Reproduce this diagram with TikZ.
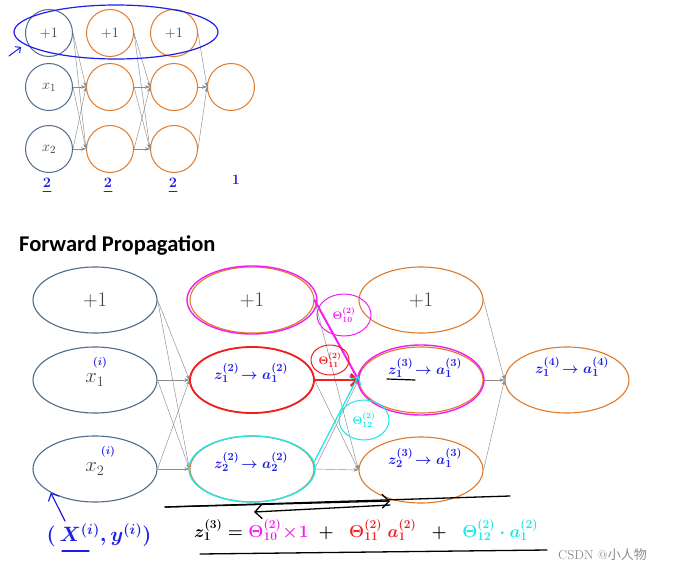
\documentclass[tikz,border=0pt]{standalone}
\usepackage{fontspec}
\usetikzlibrary{shapes.geometric,arrows.meta}
\newfontfamily\titlefont{Carlito}
\newfontfamily\cjkfont{Noto Sans CJK SC}
\definecolor{netblue}{HTML}{4F6C8E}
\definecolor{netorange}{HTML}{E07A2A}
\definecolor{conngray}{HTML}{8C8C8C}
\definecolor{penblue}{HTML}{1E1EE6}
\definecolor{penmag}{HTML}{F01EF0}
\definecolor{penred}{HTML}{F01E1E}
\definecolor{pencyan}{HTML}{1EE6E6}
\tikzset{
  smallnode/.style={circle, draw=#1, line width=1pt, minimum size=47pt, inner sep=0pt, text=black!75, font=\fontsize{15}{15}\selectfont},
  bignode/.style={ellipse, draw=#1, line width=1.1pt, minimum width=124pt, minimum height=66pt, inner sep=0pt, text=black!75, font=\fontsize{21}{21}\selectfont},
  conn/.style={draw=conngray, line width=0.45pt, -{Stealth[length=5pt,width=3.5pt]}},
  hand/.style={text=#1, inner sep=0pt, font=\fontsize{15}{15}\selectfont\boldmath},
  penline/.style={draw=#1, line width=1.4pt, line cap=round},
}
\begin{document}
\begin{tikzpicture}[x=1pt,y=-1pt]
\useasboundingbox[fill=white] (0,0) rectangle (696,573);

% ---------- small network ----------
\node[smallnode=netblue]   (c11) at (49,33)  {$+1$};
\node[smallnode=netblue]   (c12) at (49,87)  {$x_1$};
\node[smallnode=netblue]   (c13) at (49,149) {$x_2$};
\node[smallnode=netorange] (c21) at (110,33)  {$+1$};
\node[smallnode=netorange] (c22) at (110,87)  {};
\node[smallnode=netorange] (c23) at (110,149) {};
\node[smallnode=netorange] (c31) at (174,33)  {$+1$};
\node[smallnode=netorange] (c32) at (174,87)  {};
\node[smallnode=netorange] (c33) at (174,149) {};
\node[smallnode=netorange] (c42) at (231,87)  {};

\foreach \s in {c11,c12,c13}{
  \draw[conn] (\s.east) -- (c22.west);
  \draw[conn] (\s.east) -- (c23.west);
}
\foreach \s in {c21,c22,c23}{
  \draw[conn] (\s.east) -- (c32.west);
  \draw[conn] (\s.east) -- (c33.west);
}
\foreach \s in {c31,c32,c33}{
  \draw[conn] (\s.east) -- (c42.west);
}

\draw[penline=penblue, line width=1.2pt] (116,32) ellipse [x radius=102, y radius=27];
\coordinate (arrS) at (9,56);
\coordinate (arrE) at (21,47);
\draw[penline=penblue, line width=1pt, -{Straight Barb[length=4pt]}] (arrS) -- (arrE);

\node[hand=penblue] (n1) at (47,183) {$2$};
\node[hand=penblue] (n2) at (108,183) {$2$};
\node[hand=penblue] (n3) at (173,183) {$2$};
\node[hand=penblue] (n4) at (236,180) {$1$};
\foreach \n in {n1,n2,n3}{
  \draw[penline=penblue, line width=1pt] ([xshift=-4pt,yshift=-4pt]\n.south) -- ([xshift=4pt,yshift=-4pt]\n.south);
}

% ---------- title ----------
\node[anchor=west, inner sep=0pt, font=\titlefont\bfseries\fontsize{22.5}{22.5}\selectfont] (title) at (19,245) {Forward Propagation};

% ---------- big network ----------
\node[bignode=netblue] (b11) at (95,300) {$+1$};
\node[bignode=netblue] (b12) at (95,380) {$x_1$};
\node[bignode=netblue] (b13) at (95,469) {$x_2$};
\node[bignode=netorange] (b21) at (252,300) {$+1$};
\node[bignode=netorange] (b22) at (252,380) {};
\node[bignode=netorange] (b23) at (252,469) {};
\node[bignode=netorange] (b31) at (421,300) {$+1$};
\node[bignode=netorange] (b32) at (421,380) {};
\node[bignode=netorange] (b33) at (421,470) {};
\node[bignode=netorange] (b42) at (567,380) {};

\foreach \s in {b11,b12,b13}{
  \draw[conn] (\s.east) -- (b22.west);
  \draw[conn] (\s.east) -- (b23.west);
}
\foreach \s in {b21,b22,b23}{
  \draw[conn] (\s.east) -- (b32.west);
  \draw[conn] (\s.east) -- (b33.west);
}
\foreach \s in {b31,b32,b33}{
  \draw[conn] (\s.east) -- (b42.west);
}

% ---------- handwritten annotations ----------
\node[hand=penblue] (sup1) at (100,363) {$\scriptstyle (i)$};
\node[hand=penblue] (sup2) at (108,452) {$\scriptstyle (i)$};

\draw[penline=penmag] (b21.center) ellipse [x radius=65, y radius=34];
\draw[penline=penred, line width=1.8pt] (b22.center) ellipse [x radius=62, y radius=33];
\draw[penline=pencyan] (b23.center) ellipse [x radius=63, y radius=33];
\draw[penline=penmag] (b32.center) ellipse [x radius=63, y radius=35];

\node[hand=penblue] (t22) at (251,373) {$z^{(2)}_1\!\rightarrow a^{(2)}_1$};
\node[hand=penblue] (t23) at (251,462) {$z^{(2)}_2\!\rightarrow a^{(2)}_2$};
\node[hand=penblue] (t32) at (425,368) {$z^{(3)}_1\!\rightarrow a^{(3)}_1$};
\node[hand=penblue] (t33) at (425,458) {$z^{(3)}_2\!\rightarrow a^{(3)}_1$};
\node[hand=penblue] (t42) at (572,367) {$z^{(4)}_1\!\rightarrow a^{(4)}_1$};
\coordinate (ulA) at (387,379);
\coordinate (ulB) at (415,380);
\draw[penline=black, line width=1.2pt] (ulA) -- (ulB);

% weight arrows
\draw[penline=penmag, line width=2pt, -{Straight Barb[length=6pt]}] (b21.east) -- (b32.west);
\draw[penline=penred, line width=2.4pt, -{Straight Barb[length=6pt]}] (b22.east) -- (b32.west);
\draw[penline=pencyan, line width=1.2pt, -{Straight Barb[length=6pt]}] ([yshift=8pt]b23.east) -- ([yshift=4pt]b32.west);

\node[hand=penmag, font=\fontsize{11}{11}\selectfont\boldmath] (w10) at (344,315) {$\Theta^{(2)}_{10}$};
\draw[penline=penmag, line width=1pt] (w10.center) ellipse [x radius=27, y radius=21];
\node[hand=penred, font=\fontsize{11}{11}\selectfont\boldmath] (w11) at (330,360) {$\Theta^{(2)}_{11}$};
\draw[penline=penred, line width=1pt] (w11.center) ellipse [x radius=19, y radius=15];
\node[hand=pencyan, font=\fontsize{11}{11}\selectfont\boldmath] (w12) at (364,420) {$\Theta^{(2)}_{12}$};
\draw[penline=pencyan, line width=1pt] (w12.center) ellipse [x radius=25, y radius=20];

% (x, y) pair
\node[hand=penblue, font=\fontsize{22}{22}\selectfont\boldmath] (xy) at (99,535) {$(\,X^{(i)},y^{(i)})$};
\draw[penline=penblue, line width=1.2pt, -{Straight Barb[length=6pt]}] (65,521) -- (b13.south west);
\coordinate (xulA) at (62,551);
\coordinate (xulB) at (89,551);
\draw[penline=penblue, line width=1.2pt] (xulA) -- (xulB);

% black strokes
\coordinate (s1) at (165,507);
\coordinate (s2) at (510,496);
\coordinate (s3) at (390,501);
\coordinate (s4) at (390,505);
\coordinate (s5) at (254,512);
\draw[penline=black, line width=1.3pt] (s1) -- (s2);
\draw[penline=black, line width=1.3pt, -{Straight Barb[length=7pt]}] (s1) -- (s3);
\draw[penline=black, line width=1.3pt, -{Straight Barb[length=7pt]}] (s4) -- (s5);
\coordinate (s6) at (200,554);
\coordinate (s7) at (547,550);
\draw[penline=black, line width=1.3pt] (s6) -- (s7);

% equation
\node[hand=black, font=\fontsize{18}{18}\selectfont\boldmath, anchor=west] (eq) at (194,530)
 {$z^{(3)}_1 = {\color{penmag}\Theta^{(2)}_{10}\!\times\! 1}\; + \;\;{\color{penred}\Theta^{(2)}_{11}\;a^{(2)}_1}\;\; + \;\;{\color{pencyan}\Theta^{(2)}_{12}\cdot a^{(2)}_1}$};

% watermark
\node[anchor=west, inner sep=0pt, text=black!45, font=\fontsize{13}{13}\selectfont] (wm) at (558,555) {CSDN @{\cjkfont 小人物}};
\end{tikzpicture}
\end{document}
